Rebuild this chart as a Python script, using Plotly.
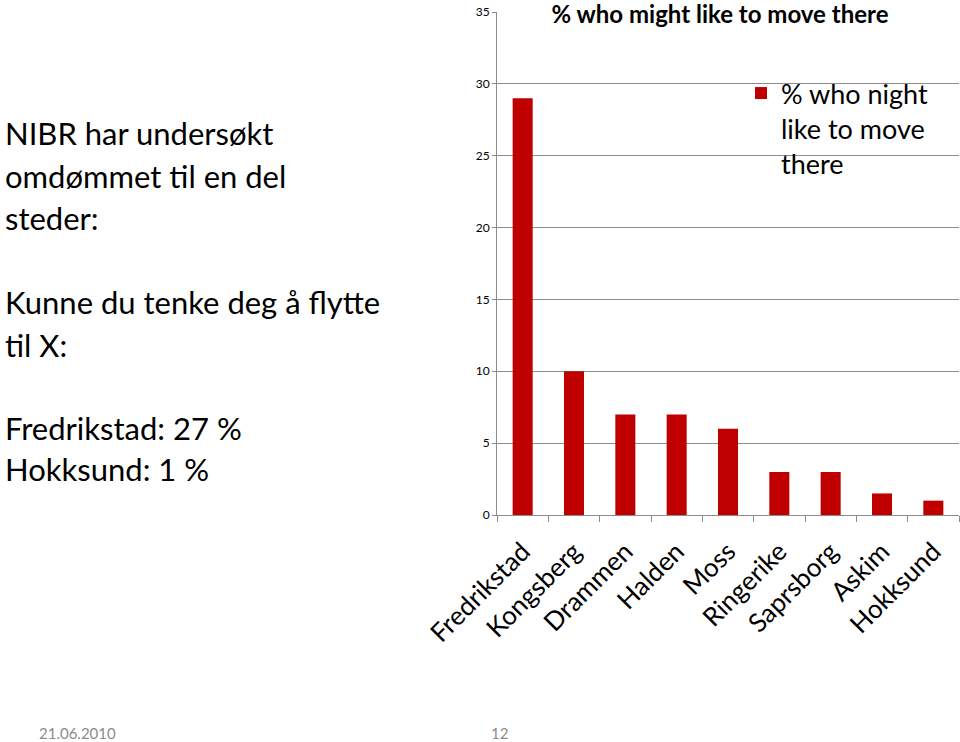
import plotly.graph_objects as go

categories = ["Fredrikstad", "Kongsberg", "Drammen", "Halden", "Moss",
              "Ringerike", "Saprsborg", "Askim", "Hokksund"]
values = [29, 10, 7, 7, 6, 3, 3, 1.5, 1]
y_ticks = [0, 5, 10, 15, 20, 25, 30, 35]
series_name = "% who night<br>like to move<br>there"
chart_title = "% who might like to move there"
left_lines = [
    ("NIBR har undersøkt", 133),
    ("omdømmet til en del", 176),
    ("steder:", 218),
    ("Kunne du tenke deg å flytte", 302),
    ("til X:", 345),
    ("Fredrikstad: 27 %", 428),
    ("Hokksund: 1 %", 469),
]
footer_date = "21.06.2010"
footer_page = "12"

W, H = 960, 742
L, R, T, B = 497, 1, 12, 227
PW, PH = W - L - R, H - T - B
FONT = "Lato"
GRID = "#8c8c8c"


def px(x):
    return (x - L) / PW


def py(y):
    return 1 - (y - T) / PH


fig = go.Figure()
fig.add_trace(go.Bar(
    x=categories, y=values, name=series_name,
    marker=dict(color="#C00000", line=dict(width=0)),
    showlegend=True,
))

fig.update_layout(
    width=W, height=H,
    margin=dict(l=L, r=R, t=T, b=B, autoexpand=False),
    paper_bgcolor="white", plot_bgcolor="white",
    bargap=0.61,
    font=dict(family=FONT, color="black"),
    title=dict(text="<b>" + chart_title + "</b>", x=720 / W, xanchor="center",
               y=1 - 15 / H, yanchor="middle",
               font=dict(family=FONT, size=24, color="black")),
    legend=dict(x=px(741), xanchor="left", y=py(69), yanchor="top",
                bgcolor="rgba(0,0,0,0)", font=dict(family=FONT, size=27, color="black"),
                valign="top", traceorder="normal"),
    xaxis=dict(
        type="category", tickangle=-45, tickson="boundaries",
        ticks="outside", ticklen=6, tickcolor=GRID,
        showline=True, linecolor=GRID, linewidth=1,
        showgrid=False, ticklabelstandoff=10,
        tickfont=dict(family=FONT, size=26, color="black"),
    ),
    yaxis=dict(
        range=[0, 35], tickvals=y_ticks,
        ticks="outside", ticklen=4, tickcolor=GRID,
        showline=True, linecolor=GRID, linewidth=1,
        showgrid=True, gridcolor=GRID, gridwidth=1,
        zeroline=False,
        tickfont=dict(family=FONT, size=12, color="black"),
    ),
)

for text, ypix in left_lines:
    fig.add_annotation(text=text, xref="paper", yref="paper",
                       x=px(3), xanchor="left",
                       y=py(ypix), yanchor="middle",
                       showarrow=False,
                       font=dict(family=FONT, size=31, color="black"))

fig.add_annotation(text=footer_date, xref="paper", yref="paper",
                   x=px(37), xanchor="left",
                   y=py(733), yanchor="middle",
                   showarrow=False, font=dict(family=FONT, size=15, color="#8c8c8c"))
fig.add_annotation(text=footer_page, xref="paper", yref="paper",
                   x=px(499), xanchor="center",
                   y=py(733), yanchor="middle",
                   showarrow=False, font=dict(family=FONT, size=15, color="#8c8c8c"))

fig.write_html("out.html")
